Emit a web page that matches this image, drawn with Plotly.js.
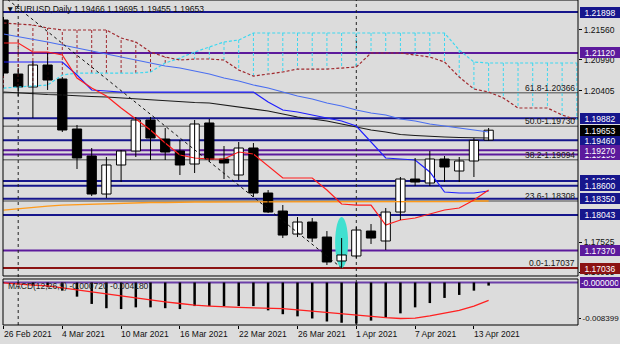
<!DOCTYPE html>
<html><head><meta charset="utf-8">
<script src="https://cdn.plot.ly/plotly-3.0.1.min.js"></script>
<style>html,body{margin:0;padding:0;background:#dcdcdc;overflow:hidden}#chart{width:620px;height:344px}</style>
</head><body><div id="chart"></div>
<script>
// ---------- data ----------
const symbol = "EURUSD";
const timeframe = "Daily";
const dateLabels = ["26 Feb 2021","4 Mar 2021","10 Mar 2021","16 Mar 2021","22 Mar 2021","26 Mar 2021","1 Apr 2021","7 Apr 2021","13 Apr 2021"];
const tickBars = [0,4,8,12,16,20,24,28,32];
const monthStarts = [1,24];

const openP  = [1.21746,1.20720,1.20474,1.20891,1.20625,1.19676,1.19163,1.18441,1.18992,1.19258,1.19847,1.19486,1.19258,1.19011,1.19790,1.19106,1.18802,1.19315,1.18460,1.18118,1.17681,1.17909,1.17624,1.17169,1.17264,1.17738,1.17549,1.18099,1.18726,1.18650,1.19106,1.18878,1.19068,1.19466];
const highP  = [1.21803,1.20834,1.20967,1.21119,1.20663,1.19752,1.19315,1.19144,1.19277,1.19904,1.19904,1.19695,1.19467,1.19847,1.19866,1.19353,1.19429,1.19410,1.18517,1.18232,1.18004,1.17985,1.17738,1.17605,1.17814,1.17871,1.18175,1.18764,1.19125,1.19258,1.19163,1.19144,1.19505,1.19695];
const lowP   = [1.20682,1.20303,1.19885,1.20417,1.19619,1.18916,1.18403,1.18365,1.18669,1.19144,1.19087,1.19087,1.18802,1.18840,1.19049,1.18726,1.18707,1.18384,1.18080,1.17605,1.17624,1.17530,1.17093,1.17037,1.17226,1.17492,1.17378,1.17947,1.18593,1.18593,1.18669,1.18669,1.18764,1.19455];
const closeP = [1.20739,1.20474,1.20891,1.20606,1.19657,1.19125,1.18441,1.18992,1.19258,1.19847,1.19505,1.19239,1.18992,1.19771,1.19106,1.19030,1.19315,1.18460,1.18099,1.17662,1.17909,1.17605,1.17150,1.17283,1.17757,1.17605,1.18099,1.18726,1.18669,1.19106,1.18954,1.19068,1.19460,1.19653];

const tenkan = [1.21309,1.21309,1.21138,1.21138,1.21081,1.20644,1.20454,1.20303,1.20075,1.19866,1.19657,1.19410,1.19182,1.19125,1.19106,1.19106,1.19239,1.19201,1.18973,1.18745,1.18745,1.18745,1.18517,1.18251,1.18232,1.18232,1.17852,1.17947,1.17985,1.18061,1.18137,1.18175,1.18327,1.18517];
const kijun  = [1.20948,1.20948,1.20948,1.20948,1.20948,1.20701,1.20417,1.20398,1.20378,1.20378,1.20378,1.20378,1.20378,1.20378,1.20378,1.20378,1.20378,1.20378,1.20189,1.20037,1.19999,1.19942,1.19885,1.19828,1.19733,1.19429,1.19125,1.19106,1.19087,1.18859,1.18479,1.18460,1.18460,1.18498];
const maBlue = [1.21480,1.21433,1.21376,1.21328,1.21271,1.21214,1.21157,1.21100,1.21043,1.20986,1.20929,1.20872,1.20834,1.20777,1.20720,1.20644,1.20588,1.20511,1.20454,1.20378,1.20303,1.20246,1.20170,1.20113,1.20037,1.19980,1.19942,1.19866,1.19828,1.19771,1.19733,1.19695,1.19657,1.19619];
const maBlack = [1.20378,1.20360,1.20341,1.20331,1.20322,1.20303,1.20293,1.20284,1.20265,1.20255,1.20236,1.20217,1.20198,1.20179,1.20170,1.20132,1.20094,1.20056,1.20018,1.19961,1.19904,1.19866,1.19828,1.19771,1.19714,1.19657,1.19619,1.19571,1.19552,1.19533,1.19524,1.19514,1.19505,1.19505];
const maOrange = [1.18137,1.18166,1.18194,1.18213,1.18232,1.18242,1.18251,1.18261,1.18270,1.18270,1.18280,1.18280,1.18289,1.18289,1.18289,1.18289,1.18289,1.18289,1.18289,1.18289,1.18289,1.18289,1.18289,1.18289,1.18289,1.18289,1.18289,1.18289,1.18289,1.18299,1.18299,1.18299,1.18308,1.18308];

const spanA = [1.20454,1.20474,1.20492,1.20511,1.20701,1.20739,1.20739,1.20739,1.20739,1.20739,1.20758,1.20929,1.21024,1.21138,1.21233,1.21328,1.21366,1.21499,1.21499,1.21499,1.21499,1.21499,1.21499,1.21499,1.21499,1.21499,1.21499,1.21499,1.21499,1.21499,1.21499,1.21176,1.20948,1.20929,1.20929,1.20929,1.20929,1.20929,1.20929,1.20929];
const spanB = [1.21689,1.21670,1.21651,1.21594,1.21556,1.21556,1.21556,1.21556,1.21404,1.21328,1.21138,1.21043,1.20986,1.21005,1.21005,1.20986,1.20796,1.20682,1.20720,1.20758,1.20815,1.20815,1.20815,1.20834,1.20853,1.21119,1.21119,1.21119,1.21081,1.21043,1.20948,1.20663,1.20436,1.20378,1.20265,1.20075,1.20075,1.20075,1.19942,1.19847];

const macdHist = [-0.0001,-0.0004,-0.0007,-0.0011,-0.0019,-0.0033,-0.0050,-0.0060,-0.0062,-0.0058,-0.0058,-0.0060,-0.0062,-0.0055,-0.0055,-0.0055,-0.0055,-0.0055,-0.0065,-0.0074,-0.0079,-0.0084,-0.0091,-0.0094,-0.0096,-0.0089,-0.0082,-0.0072,-0.0058,-0.0048,-0.0036,-0.0029,-0.0019,-0.00072];
const macdSignal = [-0.0001,-0.0004,-0.0006,-0.0008,-0.0012,-0.0017,-0.0022,-0.0026,-0.0031,-0.0036,-0.0041,-0.0045,-0.0049,-0.0053,-0.0055,-0.0057,-0.0058,-0.0059,-0.0060,-0.0061,-0.0064,-0.0067,-0.0071,-0.0073,-0.0077,-0.0079,-0.0082,-0.0084,-0.0083,-0.0078,-0.0072,-0.0065,-0.0055,-0.00418];

const fibAnchorBars = [-1, 23];
const fibAnchorPrices = [1.22424, 1.17037];
const fibLevels = [0.0, 23.6, 38.2, 50.0, 61.8, 100.0];
const fibPrices = [1.17037, 1.18308, 1.19094, 1.19730, 1.20366, 1.22424];

const hLevels = [1.19190, 1.18690, 1.21898, 1.21120, 1.19882, 1.19460, 1.19270, 1.18600, 1.18350, 1.18043, 1.17370, 1.17036];
const hKinds  = ["purple","blue","blue","purple","blue","blue","purple","blue","blue","blue","purple","red"];

const yTicks = [1.21560, 1.20990, 1.20405, 1.17525, 1.16955];
const macdTicks = [-0.008399];

const highlightBar = 23;
const highlightTop = 1.18004;

// ---------- styles ----------
const FONT = "Liberation Sans, Arial, sans-serif";
const FS = 8.5;
const kindColor = {blue:"#16168c", purple:"#5c1a9c", red:"#8b1212"};
const yRange = [1.16884, 1.22126];
const y2Range = [-0.00992, 0.00082];
const xRange = [-0.034, 39.08];

const idx = openP.map((_, i) => i);
const cloudIdx = spanA.map((_, i) => i);

const traces = [];
const hatchB = {x: [], y: []}, hatchA = {x: [], y: []};
cloudIdx.forEach(i => {
  const h = spanB[i] > spanA[i] ? hatchB : hatchA;
  h.x.push(i, i, null); h.y.push(spanA[i], spanB[i], null);
});
traces.push({type:'scatter', mode:'lines', x:hatchB.x, y:hatchB.y, line:{color:'#a0282d', width:1, dash:'3px,2px'}, hoverinfo:'skip'});
traces.push({type:'scatter', mode:'lines', x:hatchA.x, y:hatchA.y, line:{color:'#3cd8f0', width:1, dash:'3px,2px'}, hoverinfo:'skip'});
traces.push({type:'scatter', mode:'lines', x:cloudIdx, y:spanA, line:{color:'#3cd8f0', width:1.2, dash:'3px,2px'}});
traces.push({type:'scatter', mode:'lines', x:cloudIdx, y:spanB, line:{color:'#a0282d', width:1.2, dash:'3px,2px'}});
traces.push({type:'scatter', mode:'lines', x:idx, y:maOrange, line:{color:'#ff9a1a', width:1.3}});
traces.push({type:'scatter', mode:'lines', x:idx, y:maBlack, line:{color:'#1a1a1a', width:1.1}});
traces.push({type:'scatter', mode:'lines', x:idx, y:maBlue, line:{color:'#4a6ef0', width:1.1}});
traces.push({type:'scatter', mode:'lines', x:idx, y:kijun, line:{color:'#1e1eff', width:1.2}});
traces.push({type:'scatter', mode:'lines', x:idx, y:tenkan, line:{color:'#ff1e1e', width:1.2}});
traces.push({type:'scatter', mode:'lines', x:fibAnchorBars, y:fibAnchorPrices, line:{color:'#111', width:1, dash:'3px,3px'}});
traces.push({type:'scatter', mode:'lines',
  x: idx.flatMap(i => [i, i, null]),
  y: idx.flatMap(i => [lowP[i], highP[i], null]),
  line:{color:'#000', width:1}});
traces.push({type:'bar', x:idx,
  base: idx.map(i => Math.min(openP[i], closeP[i])),
  y: idx.map(i => Math.max(Math.abs(closeP[i] - openP[i]), 0.00003)),
  width: 0.63,
  marker:{color: idx.map(i => closeP[i] >= openP[i] ? '#ffffff' : '#000000'), line:{color:'#000', width:1}}});
traces.push({type:'bar', x:idx, y:macdHist, width:0.17, marker:{color:'#000', line:{width:0}}, xaxis:'x', yaxis:'y2'});
traces.push({type:'scatter', mode:'lines', x:idx, y:macdSignal, line:{color:'#ff2020', width:1.3}, xaxis:'x', yaxis:'y2'});

const shapes = [];
fibPrices.forEach(v => {
  if (v > yRange[0] && v < yRange[1])
    shapes.push({type:'line', xref:'paper', yref:'y', x0:0, x1:1, y0:v, y1:v, layer:'below', line:{color:'#7a7a7a', width:1.5}});
});
hLevels.forEach((v, k) => {
  shapes.push({type:'line', xref:'paper', yref:'y', x0:0, x1:1, y0:v, y1:v, layer:'below', line:{color:kindColor[hKinds[k]], width:2}});
});
shapes.push({type:'line', xref:'paper', yref:'y2', x0:0, x1:1, y0:0, y1:0, layer:'below', line:{color:'#6b3fa8', width:2}});
monthStarts.forEach(b => {
  shapes.push({type:'line', xref:'x', yref:'paper', x0:b, x1:b, y0:0, y1:1, layer:'below', line:{color:'#222', width:1, dash:'3px,3px'}});
});
shapes.push({type:'circle', xref:'x', yref:'y', x0:highlightBar - 0.44, x1:highlightBar + 0.44,
  y0:lowP[highlightBar], y1:highlightTop, layer:'below', fillcolor:'#40e0d0', line:{width:0}});
shapes.push({type:'rect', xref:'paper', yref:'y domain', x0:0, x1:1, y0:0, y1:1, layer:'above', line:{color:'#000', width:1}});
shapes.push({type:'rect', xref:'paper', yref:'y2 domain', x0:0, x1:1, y0:0, y1:1, layer:'above', line:{color:'#000', width:1}});

const ann = [];
const last = openP.length - 1;
ann.push({xref:'paper', yref:'paper', x:0, y:1, xanchor:'left', yanchor:'top', xshift:1, yshift:-2, showarrow:false,
  text:'\u25BC' + symbol + ',' + timeframe + ' ' + [openP[last], highP[last], lowP[last], closeP[last]].map(v => v.toFixed(5)).join(' '),
  font:{family:FONT, size:FS, color:'#101010'}});
fibPrices.forEach((v, k) => {
  if (v > yRange[0] && v < yRange[1])
    ann.push({xref:'paper', yref:'y', x:1, y:v, xanchor:'right', yanchor:'bottom', xshift:-1, yshift:-2, showarrow:false,
      text: fibLevels[k].toFixed(1) + '-' + v.toFixed(5), font:{family:FONT, size:FS, color:'#151515'}});
});
function box(v, yref, txt, bg) {
  ann.push({xref:'paper', yref:yref, x:1, y:v, xanchor:'left', yanchor:'middle', xshift:2, showarrow:false,
    text:txt, width:37, height:8, align:'center', bgcolor:bg, bordercolor:bg, borderpad:0.5,
    font:{family:FONT, size:FS, color:'#ffffff'}});
}
hLevels.forEach((v, k) => box(v, 'y', v.toFixed(5), kindColor[hKinds[k]]));
box(closeP[last], 'y', closeP[last].toFixed(5), '#000000');
box(0, 'y2', '-0.000000', '#5c1a9c');
ann.push({xref:'paper', yref:'y2 domain', x:0, y:0.85, xanchor:'left', yanchor:'middle', xshift:3, showarrow:false,
  text:'MACD(12,26,9) ' + macdHist[last].toFixed(6) + ' ' + macdSignal[last].toFixed(6),
  font:{family:FONT, size:FS, color:'#202020'}});
tickBars.forEach((b, k) => {
  ann.push({xref:'x', yref:'paper', x:b, y:0, xanchor:'left', yanchor:'top', xshift:-2, yshift:-2, showarrow:false,
    text:dateLabels[k], font:{family:FONT, size:FS, color:'#101010'}});
});

const layout = {
  width:620, height:344,
  margin:{l:3, r:42, t:0, b:19, pad:0},
  paper_bgcolor:'#dcdcdc', plot_bgcolor:'#dcdcdc',
  showlegend:false, hovermode:false, barmode:'overlay',
  xaxis:{domain:[0,1], anchor:'y2', range:xRange, showgrid:false, zeroline:false, showline:false,
    tickvals:tickBars, ticktext:tickBars.map(() => ''), ticks:'outside', ticklen:3, tickcolor:'#000',
    showticklabels:false, automargin:false, fixedrange:true},
  yaxis:{domain:[0.15077,1], anchor:'x', side:'right', range:yRange, showgrid:false, zeroline:false, showline:false,
    tickvals:yTicks, ticktext:yTicks.map(v => v.toFixed(5)), ticks:'outside', ticklen:3, tickcolor:'#000',
    tickfont:{family:FONT, size:FS, color:'#101010'}, automargin:false, fixedrange:true},
  yaxis2:{domain:[0,0.14154], anchor:'x', side:'right', range:y2Range, showgrid:false, zeroline:false, showline:false,
    tickvals:macdTicks, ticktext:macdTicks.map(v => v.toFixed(6)), ticks:'outside', ticklen:2, tickcolor:'#000',
    tickfont:{family:FONT, size:8, color:'#101010'}, automargin:false, fixedrange:true},
  shapes:shapes, annotations:ann
};
Plotly.newPlot('chart', traces, layout, {displayModeBar:false, staticPlot:true});
</script></body></html>
